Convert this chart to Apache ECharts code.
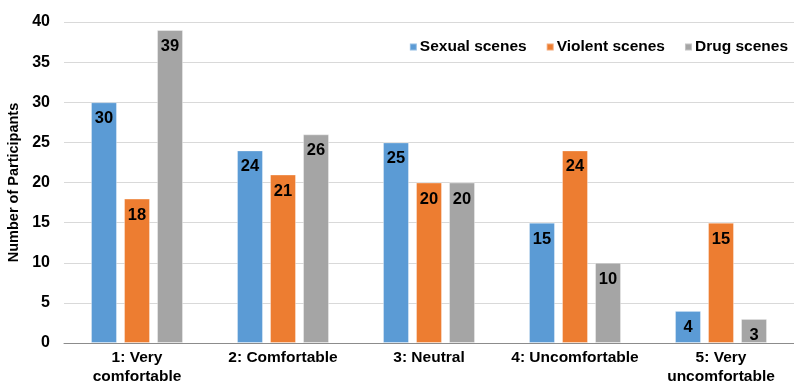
<!DOCTYPE html>
<html>
<head>
<meta charset="utf-8">
<script src="https://cdn.jsdelivr.net/npm/echarts@6/dist/echarts.min.js"></script>
<style>
  html, body { margin: 0; padding: 0; background: #fff; }
  #chart { width: 794px; height: 386px; }
</style>
</head>
<body>
<div id="chart"></div>
<script>
// Comfort ratings per scene type
const categories = ['1: Very\ncomfortable', '2: Comfortable', '3: Neutral', '4: Uncomfortable', '5: Very\nuncomfortable'];
const sexualScenes = [30, 24, 25, 15, 4];
const violentScenes = [18, 21, 20, 24, 15];
const drugScenes = [39, 26, 20, 10, 3];
const yTicks = { min: 0, max: 40, interval: 5 };

const FONT = '"Liberation Sans", Arial, sans-serif';

function barSeries(name, data, color) {
  return {
    name: name,
    type: 'bar',
    data: data,
    barWidth: 26,
    barGap: '27%',
    itemStyle: { color: color, borderColor: 'rgba(255,255,255,0.35)', borderWidth: 1 },
    label: {
      show: true,
      position: 'insideTop',
      distance: 8,
      color: '#000',
      fontFamily: FONT,
      fontWeight: 'bold',
      fontSize: 16.5
    }
  };
}

const chart = echarts.init(document.getElementById('chart'), null, { renderer: 'canvas' });
chart.setOption({
  animation: false,
  backgroundColor: '#fff',
  grid: { left: 64, right: 0, top: 22, bottom: 43, containLabel: false, outerBoundsMode: 'none' },
  legend: {
    top: 34,
    right: 1,
    itemWidth: 7,
    itemHeight: 7,
    itemGap: 19,
    icon: 'rect',
    textStyle: { fontFamily: FONT, fontWeight: 'bold', fontSize: 15.5, color: '#000', padding: [0, 0, 0, -2] },
    data: ['Sexual scenes', 'Violent scenes', 'Drug scenes']
  },
  xAxis: {
    type: 'category',
    data: categories,
    axisLine: { lineStyle: { color: '#8c8c8c', width: 1 } },
    axisTick: { show: false },
    axisLabel: {
      color: '#000',
      fontFamily: FONT,
      fontWeight: 'bold',
      fontSize: 15.5,
      lineHeight: 19,
      margin: 5,
      interval: 0
    }
  },
  yAxis: {
    type: 'value',
    min: yTicks.min,
    max: yTicks.max,
    interval: yTicks.interval,
    name: 'Number of Participants',
    nameLocation: 'middle',
    nameGap: 41,
    nameRotate: 90,
    nameTextStyle: { color: '#000', fontFamily: FONT, fontWeight: 'bold', fontSize: 14.5 },
    axisLine: { show: false },
    axisTick: { show: false },
    splitLine: { lineStyle: { color: '#d9d9d9', width: 1 } },
    axisLabel: {
      color: '#000',
      fontFamily: FONT,
      fontWeight: 'bold',
      fontSize: 16,
      margin: 14
    }
  },
  series: [
    barSeries('Sexual scenes', sexualScenes, '#5b9bd5'),
    barSeries('Violent scenes', violentScenes, '#ed7d31'),
    barSeries('Drug scenes', drugScenes, '#a5a5a5')
  ]
});
</script>
</body>
</html>
